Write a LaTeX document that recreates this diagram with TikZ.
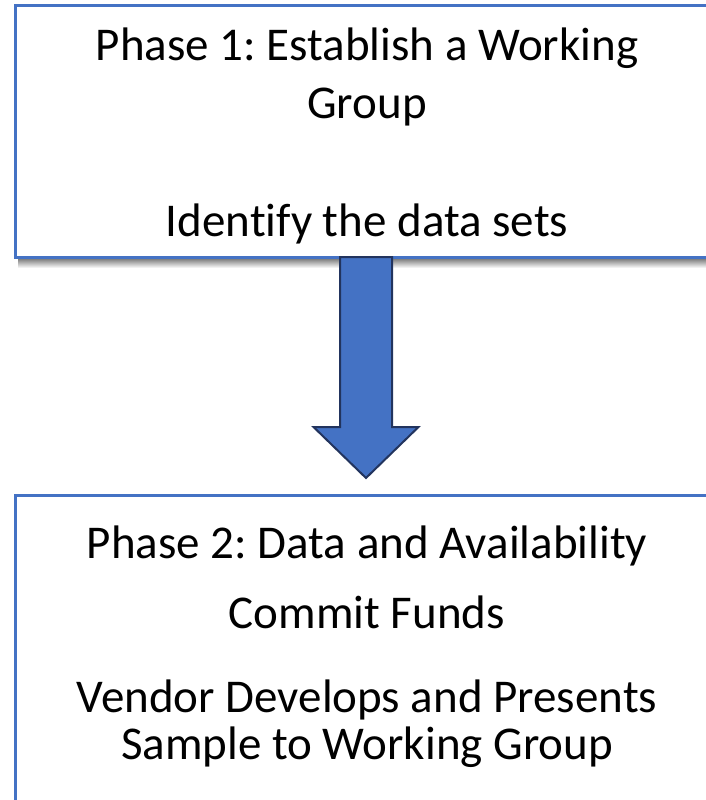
\documentclass[tikz,border=0pt]{standalone}
\usepackage{fontspec}
\setmainfont{Carlito}[Ligatures=NoCommon]
\usepackage{tikz}
\usetikzlibrary{calc}

\definecolor{boxblue}{HTML}{4472C4}
\definecolor{arrowline}{HTML}{22345E}

\frenchspacing

\begin{document}
\begin{tikzpicture}[x=1pt,y=-1pt]

	\tikzstyle phase box=[draw=boxblue, line width=3pt, fill=white, inner sep=0pt];
	\tikzstyle phase text=[anchor=base, inner sep=0pt, font=\fontsize{47}{56}\selectfont];
	\tikzstyle block arrow=[fill=boxblue, draw=arrowline, line width=2pt, line join=miter];

	\useasboundingbox (0,0) rectangle (706,800);
	\clip (0,0) rectangle (706,800);

	% shadow under the first box
	\shade[top color=black!55, bottom color=white] (18,258) rectangle (720,268);

	\node[phase box, minimum width=702pt, minimum height=251pt] (phase1) at (366,131.5) {};
	\node[phase box, minimum width=702pt, minimum height=325pt] (phase2) at (366,657.5) {};

		\foreach \y/\t in {60/Phase 1: Establish a Working,118/Group,236/Identify the data sets}
			\node[phase text] (one\y) at (367,\y) {\t};

		\foreach \y/\t in {558/Phase 2: Data and Availability,628/Commit Funds,712/Vendor Develops and Presents,759/Sample to Working Group}
			\node[phase text] (two\y) at (367,\y) {\t};

	%\draw[block arrow] (phase1) -- (phase2);
	\coordinate (arrow top) at (366,257);
	\coordinate (arrow tip) at (366,478);
		\draw[block arrow] ($(arrow top)+(-26,0)$) -- ($(arrow top)+(26,0)$)
			-- ($(arrow tip)+(26,-51)$) -- ($(arrow tip)+(52.5,-51)$) -- (arrow tip)
			-- ($(arrow tip)+(-52.5,-51)$) -- ($(arrow tip)+(-26,-51)$) -- cycle;

\end{tikzpicture}
\end{document}
